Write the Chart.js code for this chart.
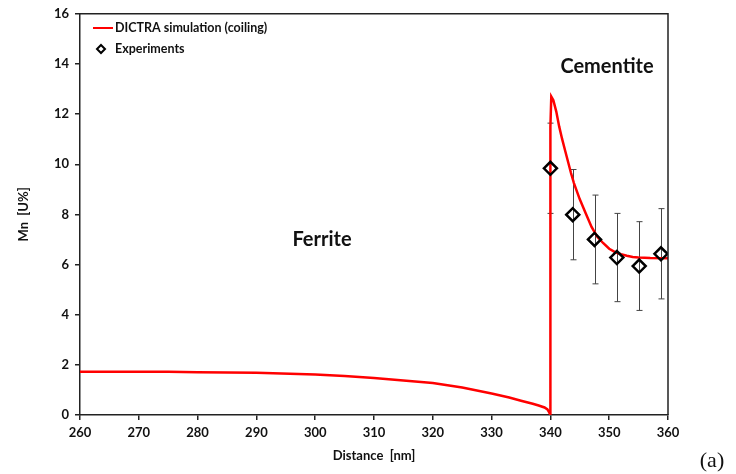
<!DOCTYPE html>
<html>
<head>
<meta charset="utf-8">
<script src="https://cdn.jsdelivr.net/npm/chart.js@4"></script>
<style>
  html, body { margin:0; padding:0; background:#fff; }
  #wrap { width:736px; height:474px; position:relative; }
</style>
</head>
<body>
<div id="wrap"><canvas id="mnChart" width="736" height="474"></canvas></div>
<script>
// simulated Mn profile (DICTRA, coiling)
const simX = [260, 270, 275, 280, 290, 300, 305, 310, 315, 320, 325, 330, 333, 335, 337, 338, 339, 339.5, 339.8, 340,
  340, 340.15, 340.5, 341, 341.5, 342, 342.5, 343, 343.5, 344, 345, 346, 347, 348, 349, 350, 351, 352, 353, 354, 355, 357, 360];
const simY = [1.72, 1.72, 1.72, 1.70, 1.68, 1.62, 1.56, 1.48, 1.38, 1.28, 1.10, 0.86, 0.70, 0.57, 0.45, 0.38, 0.30, 0.22, 0.10, 0,
  11.5, 12.7, 12.55, 12.1, 11.5, 11.0, 10.55, 10.1, 9.65, 9.25, 8.6, 8.05, 7.5, 7.1, 6.85, 6.63, 6.5, 6.41, 6.35, 6.3, 6.28, 6.26, 6.25];

// measured points with error bars
const expX = [340, 343.8, 347.5, 351.3, 355.1, 358.8];
const expY = [9.84, 7.99, 7.0, 6.28, 5.94, 6.43];
const expErr = [1.8, 1.8, 1.77, 1.76, 1.77, 1.8];

const xTicks = [260, 270, 280, 290, 300, 310, 320, 330, 340, 350, 360];
const yTicks = [0, 2, 4, 6, 8, 10, 12, 14, 16];

const boldFont = '"Lato", "Open Sans", sans-serif';

const extras = {
  id: 'extras',
  beforeDatasetsDraw(chart) {
    const c = chart.ctx, x = chart.scales.x, y = chart.scales.y;
    c.save();
    c.strokeStyle = '#444';
    c.lineWidth = 1;
    expX.forEach((v, i) => {
      const px = Math.round(x.getPixelForValue(v)) + 0.5;
      const top = y.getPixelForValue(expY[i] + expErr[i]);
      const bot = y.getPixelForValue(expY[i] - expErr[i]);
      c.beginPath();
      c.moveTo(px, top); c.lineTo(px, bot);
      c.moveTo(px - 3, top); c.lineTo(px + 3, top);
      c.moveTo(px - 3, bot); c.lineTo(px + 3, bot);
      c.stroke();
    });
    c.restore();
  },
  afterDraw(chart) {
    const c = chart.ctx, a = chart.chartArea;
    c.save();
    // frame top + right
    c.strokeStyle = '#222';
    c.lineWidth = 1.5;
    c.beginPath();
    c.moveTo(a.left, a.top); c.lineTo(a.right, a.top); c.lineTo(a.right, a.bottom);
    c.stroke();

    // legend
    c.strokeStyle = '#ff0000';
    c.lineWidth = 2;
    c.beginPath(); c.moveTo(93, 28); c.lineTo(113, 28); c.stroke();
    c.fillStyle = '#111';
    c.font = 'bold 12.5px ' + boldFont;
    c.textBaseline = 'middle';
    c.fillText('DICTRA simulation (coiling)', 115, 28);
    c.fillText('Experiments', 115, 49);
    c.strokeStyle = '#000';
    c.lineWidth = 2;
    c.beginPath();
    c.moveTo(101, 45); c.lineTo(105, 49); c.lineTo(101, 53); c.lineTo(97, 49); c.closePath();
    c.stroke();

    // region labels
    c.font = 'bold 20px ' + boldFont;
    c.textAlign = 'center';
    c.fillText('Ferrite', 322, 240);
    c.fillText('Cementite', 607, 67);

    // panel tag
    c.font = '22px "Liberation Serif", serif';
    c.fillText('(a)', 712, 461);
    c.restore();
  }
};

const ctx = document.getElementById('mnChart');
const chart = new Chart(ctx, {
  type: 'scatter',
  data: {
    datasets: [
      {
        label: 'Experiments',
        data: expX.map((v, i) => ({ x: v, y: expY[i] })),
        pointStyle: 'rectRot',
        pointRadius: 6.5,
        pointBorderWidth: 2.5,
        pointBorderColor: '#000',
        pointBackgroundColor: 'rgba(255,255,255,0)',
        showLine: false
      },
      {
        label: 'DICTRA simulation (coiling)',
        data: simX.map((v, i) => ({ x: v, y: simY[i] })),
        showLine: true,
        borderColor: '#ff0000',
        borderWidth: 2.5,
        pointRadius: 0,
        tension: 0
      }
    ]
  },
  options: {
    responsive: false,
    animation: false,
    layout: { padding: { top: 12, right: 68, left: 12, bottom: 6 } },
    plugins: { legend: { display: false }, tooltip: { enabled: false } },
    scales: {
      x: {
        type: 'linear', min: 260, max: 360,
        afterBuildTicks: s => { s.ticks = xTicks.map(v => ({ value: v })); },
        afterFit: s => { s.height = 53; },
        grid: { drawOnChartArea: false, tickLength: 5, color: '#222', lineWidth: 1.5 },
        border: { color: '#222', width: 1.5 },
        ticks: { color: '#111', font: { family: boldFont, size: 13, weight: 'bold' }, padding: 5, maxRotation: 0 },
        title: { display: true, text: 'Distance  [nm]', color: '#111', font: { family: boldFont, size: 13, weight: 'bold' }, padding: { top: 10 } }
      },
      y: {
        min: 0, max: 16,
        afterBuildTicks: s => { s.ticks = yTicks.map(v => ({ value: v })); },
        afterFit: s => { s.width = 68; },
        grid: { drawOnChartArea: false, tickLength: 5, color: '#222', lineWidth: 1.5 },
        border: { color: '#222', width: 1.5 },
        ticks: { color: '#111', font: { family: boldFont, size: 13, weight: 'bold' }, padding: 6 },
        title: { display: true, text: 'Mn  [U%]', color: '#111', font: { family: boldFont, size: 13, weight: 'bold' }, padding: { bottom: 10 } }
      }
    }
  },
  plugins: [extras]
});
</script>
</body>
</html>
